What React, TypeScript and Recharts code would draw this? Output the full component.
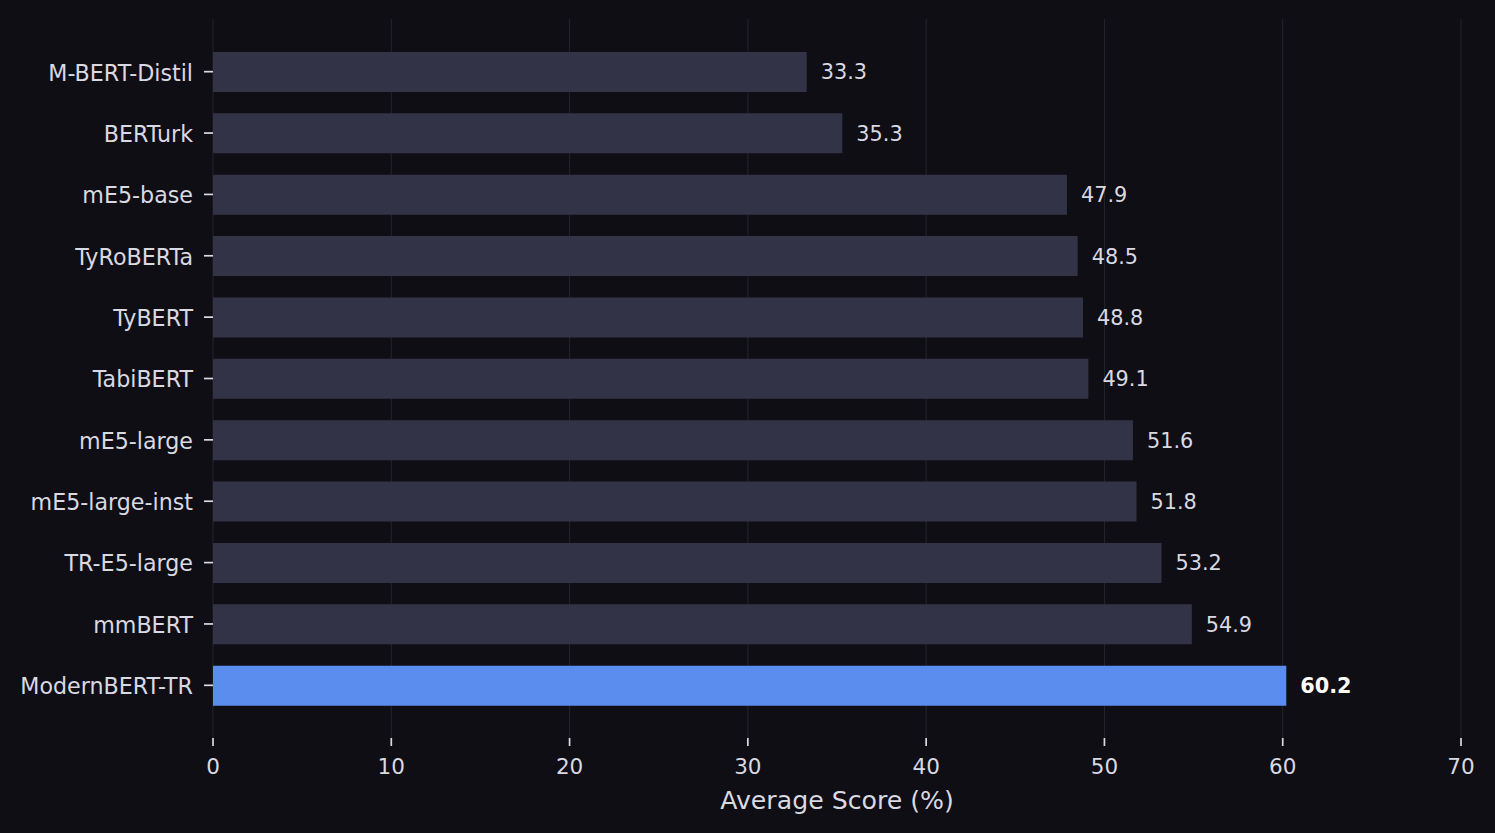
import React from "react";
import { BarChart, Bar, XAxis, YAxis, CartesianGrid, Cell, LabelList } from "recharts";

const models = [
  "M-BERT-Distil",
  "BERTurk",
  "mE5-base",
  "TyRoBERTa",
  "TyBERT",
  "TabiBERT",
  "mE5-large",
  "mE5-large-inst",
  "TR-E5-large",
  "mmBERT",
  "ModernBERT-TR",
];
const scores = [33.3, 35.3, 47.9, 48.5, 48.8, 49.1, 51.6, 51.8, 53.2, 54.9, 60.2];
const xTicks = [0, 10, 20, 30, 40, 50, 60, 70];
const highlightModel = "ModernBERT-TR";
const xLabel = "Average Score (%)";

const data = models.map((m, i) => ({ model: m, score: scores[i] }));

const BG = "#0f0e14";
const BAR = "#333347";
const HIGHLIGHT = "#5b8def";
const TEXT = "#d9d9e2";
const GRID = "#25242d";
const FONT = "'DejaVu Sans', sans-serif";

const YTick = (props: any) => {
  const { x, y, payload } = props;
  return (
    <text x={x} y={y} dy="0.4em" textAnchor="end" fill={TEXT} fontSize={22.2} fontFamily={FONT}>
      {payload.value}
    </text>
  );
};

const XTick = (props: any) => {
  const { x, y, payload } = props;
  return (
    <text x={x} y={y} dy="0.71em" textAnchor="middle" fill={TEXT} fontSize={21.5} fontFamily={FONT}>
      {payload.value}
    </text>
  );
};

const ValueLabel = (props: any) => {
  const { x, y, width, height, value, index } = props;
  const isHi = models[index] === highlightModel;
  return (
    <text
      x={Number(x) + Number(width) + 14}
      y={Number(y) + Number(height) / 2}
      dy="0.36em"
      textAnchor="start"
      fill={isHi ? "#ffffff" : TEXT}
      fontWeight={isHi ? "bold" : "normal"}
      fontSize={20.8}
      fontFamily={FONT}
    >
      {Number(value).toFixed(1)}
    </text>
  );
};

export default function App() {
  return (
    <div
      style={{
        position: "absolute",
        left: 0,
        top: 0,
        width: 1495,
        height: 833,
        background: BG,
        fontFamily: FONT,
      }}
    >
      <BarChart
        width={1495}
        height={833}
        data={data}
        layout="vertical"
        margin={{ top: 19, right: 34, left: 0, bottom: 0 }}
      >
        <CartesianGrid horizontal={false} vertical={true} stroke={GRID} strokeWidth={1} />
        <XAxis
          type="number"
          domain={[0, 70]}
          ticks={xTicks}
          height={95}
          axisLine={false}
          tickLine={{ stroke: TEXT, strokeWidth: 1.7 }}
          tickSize={8}
          tickMargin={13}
          tick={<XTick />}
          interval={0}
          label={{
            value: xLabel,
            position: "insideBottom",
            offset: 24,
            fill: TEXT,
            fontSize: 25.2,
            fontFamily: FONT,
          }}
        />
        <YAxis
          type="category"
          dataKey="model"
          width={213}
          axisLine={false}
          tickLine={{ stroke: TEXT, strokeWidth: 1.7 }}
          tickSize={9}
          tickMargin={11}
          tick={<YTick />}
          interval={0}
          padding={{ top: 22, bottom: 22 }}
        />
        <Bar dataKey="score" barSize={40} isAnimationActive={false}>
          {data.map((d, i) => (
            <Cell key={i} fill={d.model === highlightModel ? HIGHLIGHT : BAR} />
          ))}
          <LabelList dataKey="score" content={<ValueLabel />} />
        </Bar>
      </BarChart>
    </div>
  );
}
